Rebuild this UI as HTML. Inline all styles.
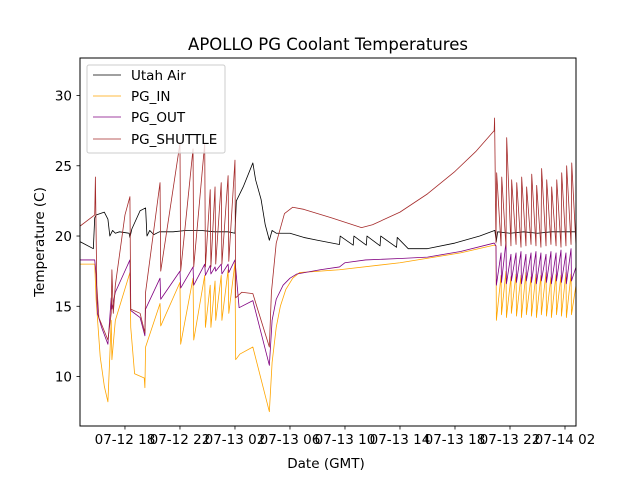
<!DOCTYPE html>
<html><head><meta charset="utf-8"><style>
body{margin:0;background:#fff;}
svg{display:block;font-family:"DejaVu Sans","Liberation Sans",sans-serif;}
</style></head><body>
<svg id="chart" width="640" height="480">
<rect x="0" y="0" width="640" height="480" fill="#fff"/>
<text x="328" y="50" text-anchor="middle" font-size="16.5">APOLLO PG Coolant Temperatures</text>
<text x="326" y="468" text-anchor="middle" font-size="13.5">Date (GMT)</text>
<text transform="translate(44,242) rotate(-90)" text-anchor="middle" font-size="13.5">Temperature (C)</text>
<defs><clipPath id="pc"><rect x="80" y="58" width="496" height="368"/></clipPath></defs>
<g id="series" clip-path="url(#pc)"></g>
<g id="axes"></g>
<rect x="80" y="58" width="496" height="368" fill="none" stroke="#000" stroke-width="1"/>
<g>
<rect x="87" y="65" width="138" height="88" fill="#fff" fill-opacity="0.8" stroke="#ccc" rx="2"/>
<line x1="93" y1="75" x2="121" y2="75" stroke="#000" stroke-width="0.8"/>
<text x="131" y="80" font-size="13.5">Utah Air</text>
<line x1="93" y1="96" x2="121" y2="96" stroke="#ffa500" stroke-width="0.8"/>
<text x="131" y="101" font-size="13.5">PG_IN</text>
<line x1="93" y1="117" x2="121" y2="117" stroke="#800080" stroke-width="0.8"/>
<text x="131" y="122" font-size="13.5">PG_OUT</text>
<line x1="93" y1="139" x2="121" y2="139" stroke="#a52a2a" stroke-width="0.8"/>
<text x="131" y="144" font-size="13.5">PG_SHUTTLE</text>
</g>
</svg>
<script>
// hours since 07-12 00:00 GMT
const xTickHours=[18,22,26,30,34,38,42,46,50];
const xTickLabels=["07-12 18","07-12 22","07-13 02","07-13 06","07-13 10","07-13 14","07-13 18","07-13 22","07-14 02"];
const yTickValues=[10,15,20,25,30];
const airT=[14.73,15.7,15.8,15.9,16.5,16.76,16.9,17.1,17.3,17.6,18.3,18.36,18.5,19.1,19.5,19.6,19.8,20.1,20.5,21.5,22.5,23.5,24.5,25.5,26,26.1,26.6,27.3,27.5,27.9,28.2,28.5,28.7,29,30,31,32,33.6,33.65,34.6,34.65,35.55,35.6,36.55,36.6,37.75,37.8,38.6,40,42,43.8,44.9,45.0,45.1,46,47,48,49,50,50.8];
const airV=[19.6,19.1,21.3,21.5,21.7,21.2,20.0,20.4,20.2,20.3,20.2,19.9,20.5,21.8,22.0,20.0,20.4,20.1,20.3,20.3,20.4,20.4,20.3,20.3,20.2,22.5,23.5,25.2,24.0,22.6,20.8,19.7,20.4,20.2,20.2,19.9,19.7,19.4,20.0,19.35,20.0,19.35,20.0,19.3,20.0,19.2,19.9,19.1,19.1,19.5,20.0,20.4,19.6,20.3,20.2,20.3,20.2,20.3,20.3,20.3];
const shuttleT=[14.73,15.8,15.85,15.95,16.1,16.76,17.0,17.05,17.15,17.3,18.0,18.36,18.42,19.1,19.45,19.5,20.55,20.6,22.0,22.05,22.95,23.0,23.8,23.85,24.2,24.25,24.55,24.6,25.0,25.05,25.5,25.55,26.0,26.05,26.5,27.3,28.5,28.65,29,29.6,30.2,31,33,35.2,36,38,40,42,43.5,44.85,44.88];
const shuttleV=[20.7,21.5,24.2,16.5,14.2,12.6,14.5,17.6,14.5,16.5,21.5,22.8,14.8,14.5,13.1,16.0,23.8,17.5,26.6,17.5,26.2,17.8,26.6,17.8,23.3,17.8,23.5,18.0,23.8,18.0,24.3,18.2,25.4,15.6,16.0,15.9,12.1,16.0,19.5,21.6,22.05,21.9,21.3,20.6,20.8,21.7,23.0,24.6,26.0,27.5,28.4];
const outT=[14.73,15.8,15.9,16.0,16.3,16.76,17.0,17.05,17.3,18.36,18.42,19.1,19.45,19.5,20.55,20.6,22.0,22.05,22.95,23.0,23.8,23.85,24.2,24.25,24.55,24.6,25.0,25.05,25.5,25.55,26.0,26.3,27.3,28.5,28.7,29,29.5,30,30.5,32.2,33.6,34,35.5,38,40,42.4,44.85];
const outV=[18.3,18.3,17.3,14.5,13.5,12.3,15.6,14.8,16.0,18.3,14.7,14.2,12.9,14.8,17.0,15.5,17.5,16.3,17.8,16.5,18.0,17.2,17.9,17.3,17.8,17.5,18.0,17.3,18.0,17.4,18.3,14.9,15.4,10.8,14.0,15.5,16.5,17.0,17.3,17.6,17.8,18.1,18.3,18.4,18.5,18.9,19.5];
const inT=[14.73,15.8,15.9,16.2,16.5,16.76,16.9,17.0,17.05,17.3,18.36,18.42,18.7,19.4,19.45,19.5,20.55,20.6,22.0,22.05,22.95,23.0,23.8,23.85,24.2,24.25,24.55,24.6,25.0,25.05,25.5,25.55,26.0,26.05,26.36,27.3,28.5,28.7,29,29.3,29.7,30.2,30.7,33.6,38,42.4,44.85];
const inV=[18.0,18.0,15.5,11.4,9.3,8.2,11.5,14.0,11.2,14.0,17.4,13.5,10.2,9.9,9.2,12.1,15.2,13.6,16.7,12.3,17.0,12.6,17.2,13.5,16.5,13.5,16.8,14.0,17.2,14.0,17.6,14.5,18.1,11.2,11.6,12.1,7.5,11.0,13.5,15.0,16.2,17.0,17.4,17.6,18.1,18.8,19.35];
// cycling section after 07-13 21
const cycleT=[44.98,45.35,45.71,46.07,46.44,46.8,47.16,47.53,47.89,48.25,48.62,48.98,49.35,49.71,50.07,50.44,50.8];
const shuttlePeaks=[24.5,24.2,27.0,24.0,23.8,24.2,23.5,24.4,23.6,24.8,24.0,23.5,24.0,24.5,25.0,25.2,25.2];
const shuttleLows=[19.5,19.3,19.2,19.3,19.4,19.2,19.3,19.4,19.3,19.2,19.3,19.4,19.3,19.2,19.3,19.4,19.3];
const outHighs=[19.3,18.8,19.6,18.7,18.8,18.9,18.7,18.8,18.9,18.8,18.7,18.9,18.8,19.0,18.8,19.1,17.8];
const outLows=[16.5,16.7,16.6,16.8,16.7,16.6,16.8,16.7,16.6,16.8,16.7,16.6,16.8,16.7,16.6,16.8,16.8];
const inHighs=[19.3,17.2,17.5,17.1,17.3,17.2,17.4,17.1,17.3,17.2,17.4,17.1,17.3,17.2,17.4,17.3,16.5];
const inLows=[14.0,14.4,14.2,14.5,14.3,14.2,14.4,14.3,14.2,14.4,14.3,14.2,14.4,14.3,14.2,14.4,14.4];

const X0=80,X1=576,Y0=426,Y1=58,H0=14.73,H1=50.8,V0=6.48,V1=32.67;
function xs(h){return X0+(h-H0)/(H1-H0)*(X1-X0);}
function ys(v){return Y0-(v-V0)/(V1-V0)*(Y0-Y1);}
const NS="http://www.w3.org/2000/svg";
const axes=document.getElementById('axes');
const series=document.getElementById('series');
function mk(tag,attrs,parent){const e=document.createElementNS(NS,tag);for(const k in attrs)e.setAttribute(k,attrs[k]);parent.appendChild(e);return e;}
xTickHours.forEach((h,i)=>{
  const x=xs(h);
  const t=mk('line',{x1:x,y1:426,x2:x,y2:429.5,stroke:'#000','stroke-width':0.8},axes);
  
  
  const l=mk('text',{x:x,y:444,'text-anchor':'middle','font-size':13.5},axes);
  l.textContent=xTickLabels[i];
  
  
});
yTickValues.forEach(v=>{
  const y=ys(v);
  const t=mk('line',{x1:76.5,y1:y,x2:80,y2:y,stroke:'#000','stroke-width':0.8},axes);
  
  
  const l=mk('text',{x:72,y:y+5,'text-anchor':'end','font-size':13.5},axes);
  l.textContent=String(v);
  
  
});
function drawLine(T,V,color,name){
  let d='';
  for(let i=0;i<T.length;i++){d+=(i?'L':'M')+xs(T[i]).toFixed(2)+' '+ys(V[i]).toFixed(2);}
  const p=mk('path',{d:d,fill:'none',stroke:color,'stroke-width':0.8,'stroke-linejoin':'round'},series);
  
  
}
const sT=shuttleT.slice(),sV=shuttleV.slice(),oT=outT.slice(),oV=outV.slice(),iT=inT.slice(),iV=inV.slice();
for(let k=0;k<cycleT.length;k++){
  const t=cycleT[k];
  sT.push(t);sV.push(shuttleLows[k]);
  if(k<cycleT.length-1){sT.push(t+0.05);sV.push(shuttlePeaks[k]);}
  oT.push(t);oV.push(outHighs[k]);
  if(k<cycleT.length-1){oT.push(t+0.03);oV.push(outLows[k]);}
  iT.push(t);iV.push(inHighs[k]);
  if(k<cycleT.length-1){iT.push(t+0.03);iV.push(inLows[k]);}
}
drawLine(airT,airV,'#000','series-utah-air');
drawLine(iT,iV,'#ffa500','series-pg-in');
drawLine(oT,oV,'#800080','series-pg-out');
drawLine(sT,sV,'#a52a2a','series-pg-shuttle');
</script>
</body></html>
